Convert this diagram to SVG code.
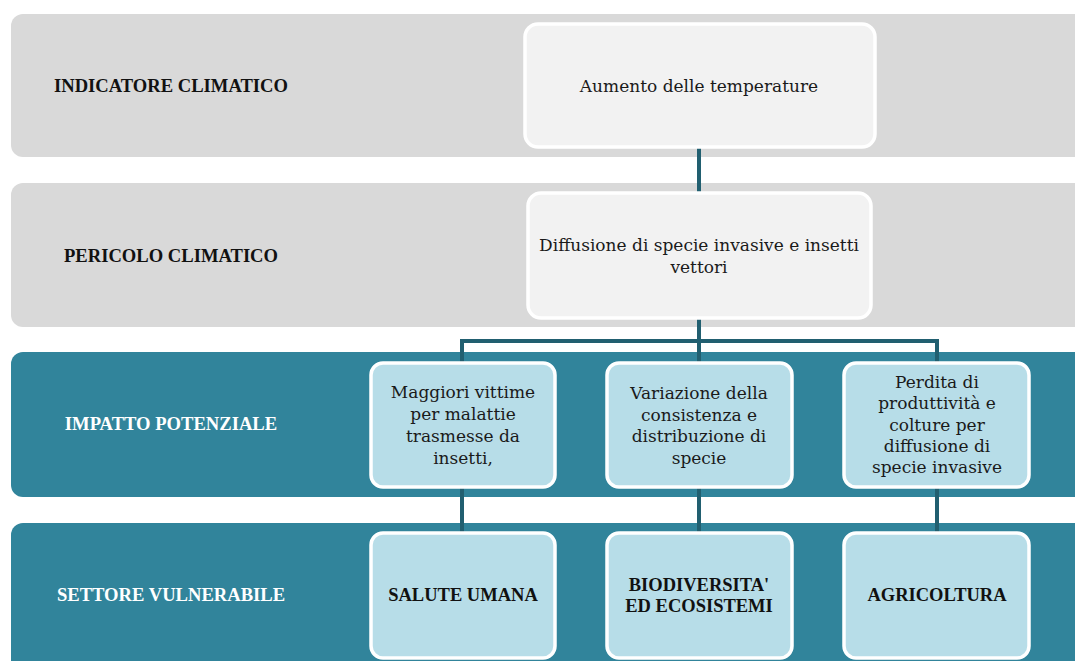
<svg xmlns="http://www.w3.org/2000/svg" width="1075" height="661" viewBox="0 0 1075 661">
<style>
.bandg{fill:#d9d9d9}
.bandt{fill:#31849b}
.ng{fill:#f2f2f2;stroke:#ffffff;stroke-width:3.5}
.nb{fill:#b7dde8;stroke:#ffffff;stroke-width:3.5}
.lab{font-family:"Liberation Serif",serif;font-weight:bold;font-size:18.6px;text-anchor:middle}
.t{font-family:"DejaVu Serif","Liberation Serif",serif;font-size:17px;text-anchor:middle;fill:#1a1a1a}
.tb{font-family:"Liberation Serif",serif;font-weight:bold;font-size:18.5px;text-anchor:middle;fill:#111}
.c{stroke:#215f70;stroke-width:4;fill:none}
</style>
<rect x="0" y="0" width="1075" height="661" fill="#ffffff"/>
<g id="bands">
<rect class="bandg" x="11" y="14" width="1090" height="143" rx="12"/>
<rect class="bandg" x="11" y="183" width="1090" height="144" rx="12"/>
<rect class="bandt" x="11" y="352" width="1090" height="145" rx="12"/>
<rect class="bandt" x="11" y="523" width="1090" height="160" rx="12"/>
</g>
<g id="row-labels">
<text class="lab" x="171" y="92" fill="#111">INDICATORE CLIMATICO</text>
<text class="lab" x="171" y="262" fill="#111">PERICOLO CLIMATICO</text>
<text class="lab" x="171" y="430" fill="#ffffff">IMPATTO POTENZIALE</text>
<text class="lab" x="171" y="601" fill="#ffffff">SETTORE VULNERABILE</text>
</g>
<g id="connectors">
<line class="c" x1="699" y1="147" x2="699" y2="193"/>
<polyline class="c" points="462,363 462,341 937,341 937,363" stroke-width="3.5"/>
<line class="c" x1="699" y1="318" x2="699" y2="363"/>
<line class="c" x1="462" y1="487" x2="462" y2="533"/>
<line class="c" x1="699" y1="487" x2="699" y2="533"/>
<line class="c" x1="937" y1="487" x2="937" y2="533"/>
</g>
<g id="n-temp">
<rect class="ng" x="525" y="24" width="350" height="123" rx="13"/>
<text class="t" x="699" y="92">Aumento delle temperature</text>
</g>
<g id="n-diff">
<rect class="ng" x="528" y="193" width="343" height="125" rx="13"/>
<text class="t" x="699" y="251">Diffusione di specie invasive e insetti</text>
<text class="t" x="699" y="273">vettori</text>
</g>
<g id="n-imp1">
<rect class="nb" x="371" y="363" width="184" height="124" rx="12"/>
<text class="t" x="463" y="398">Maggiori vittime</text>
<text class="t" x="463" y="420">per malattie</text>
<text class="t" x="463" y="442">trasmesse da</text>
<text class="t" x="463" y="464">insetti,</text>
</g>
<g id="n-imp2">
<rect class="nb" x="607" y="363" width="185" height="124" rx="12"/>
<text class="t" x="699" y="399">Variazione della</text>
<text class="t" x="699" y="421">consistenza e</text>
<text class="t" x="699" y="442">distribuzione di</text>
<text class="t" x="699" y="464">specie</text>
</g>
<g id="n-imp3">
<rect class="nb" x="844" y="363" width="185" height="124" rx="12"/>
<text class="t" x="937" y="388">Perdita di</text>
<text class="t" x="937" y="409">produttività e</text>
<text class="t" x="937" y="431">colture per</text>
<text class="t" x="937" y="452">diffusione di</text>
<text class="t" x="937" y="473">specie invasive</text>
</g>
<g id="n-sal">
<rect class="nb" x="371" y="533" width="184" height="125" rx="12"/>
<text class="tb" x="463" y="601">SALUTE UMANA</text>
</g>
<g id="n-bio">
<rect class="nb" x="607" y="533" width="185" height="125" rx="12"/>
<text class="tb" x="699" y="591">BIODIVERSITA'</text>
<text class="tb" x="699" y="612">ED ECOSISTEMI</text>
</g>
<g id="n-agr">
<rect class="nb" x="844" y="533" width="185" height="125" rx="12"/>
<text class="tb" x="937" y="601">AGRICOLTURA</text>
</g>
</svg>
